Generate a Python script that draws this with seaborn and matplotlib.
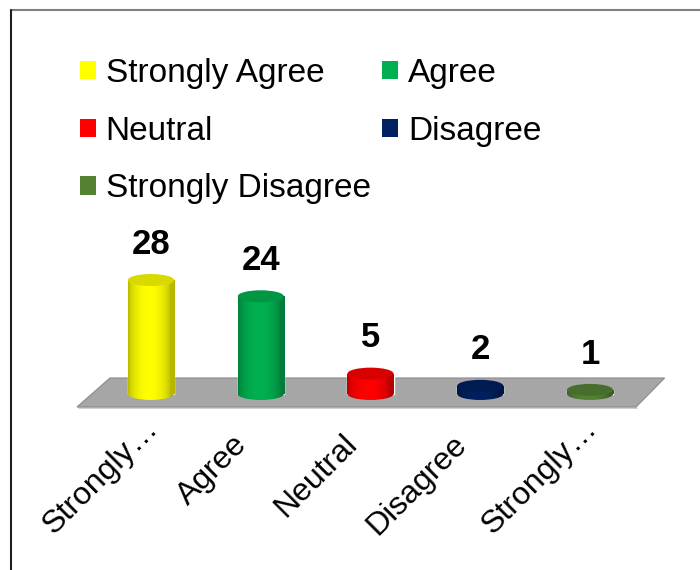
import numpy as np
import pandas as pd
import matplotlib
matplotlib.use("Agg")
import matplotlib.pyplot as plt
import matplotlib.colors as mcolors
from matplotlib.patches import Ellipse, Polygon, Patch
from matplotlib.lines import Line2D
from matplotlib.transforms import ScaledTranslation
import seaborn as sns

# ---- data ----
categories = ["Strongly Agree", "Agree", "Neutral", "Disagree", "Strongly Disagree"]
counts = [28, 24, 5, 2, 1]
tick_labels = ["Strongly…", "Agree", "Neutral", "Disagree", "Strongly…"]
colors = ["#FFFF00", "#00B050", "#FF0000", "#002060", "#548235"]

sns.set_theme(style="white")
plt.rcParams["font.family"] = ["Liberation Sans", "DejaVu Sans"]
plt.rcParams["text.color"] = "black"
plt.rcParams["xtick.color"] = "black"

fig = plt.figure(figsize=(7, 5.7), dpi=100)
fig.patch.set_facecolor("white")

# axes placement (pixel based)
W, H = 700, 570
ax = fig.add_axes([52.2 / W, (H - 418.4) / H, 636.6 / W, 207.6 / H])

df = pd.DataFrame({"category": categories, "count": counts})
sns.barplot(data=df, x="category", y="count", hue="category", palette=colors,
            width=0.42, saturation=1, legend=False, ax=ax, zorder=3)
bars = list(ax.patches)
ax.set_xlim(-0.9, 4.9)
ax.set_ylim(-6, 45)

# floor (3D base plane)
floor = Polygon([(-0.674, -3.19), (4.42, -3.19), (4.68, 3.93), (-0.374, 3.93)],
                closed=True, facecolor="#a6a6a6", edgecolor="#8c8c8c", lw=0.8, zorder=1)
shadow = Polygon([(-0.674, -3.19), (4.42, -3.19), (4.44, -3.7), (-0.654, -3.7)],
                 closed=True, facecolor="#d0d0d0", edgecolor="none", zorder=0.9)
ax.add_patch(shadow)
ax.add_patch(floor)

# cylinder look
eh = 2.95  # ellipse height in data units
t = np.linspace(0, 1, 64)
shade = 0.72 + 0.28 * np.sin(np.pi * np.clip(t * 1.1, 0, 1)) ** 0.6
for patch, col in zip(bars, colors):
    x0, w, h = patch.get_x(), patch.get_width(), patch.get_height()
    xc = x0 + w / 2
    rgb = np.array(mcolors.to_rgb(col))
    grad = np.clip(rgb[None, :] * shade[:, None], 0, 1)[None, :, :]
    dark = np.clip(rgb * 0.85, 0, 1)
    im = ax.imshow(grad, extent=(x0, x0 + w, 0, h), aspect="auto", zorder=3.5,
                   interpolation="bilinear")
    im.set_clip_path(patch)
    # bottom cap
    bot = Ellipse((xc, 0), w, eh, facecolor="none", edgecolor="none", zorder=3.4)
    ax.add_patch(bot)
    im2 = ax.imshow(grad, extent=(x0, x0 + w, -eh / 2, 0.1), aspect="auto", zorder=3.4,
                    interpolation="bilinear")
    im2.set_clip_path(bot)
    # top ellipse
    ax.add_patch(Ellipse((xc, h), w, eh, facecolor=dark, edgecolor="none", zorder=4))
    # value label
    ax.annotate(f"{int(h)}", xy=(xc, h), xytext=(0, 19), textcoords="offset points",
                ha="center", va="baseline", fontsize=25, fontweight="bold",
                color="black", zorder=5)

# axes cosmetics
for s in ax.spines.values():
    s.set_visible(False)
ax.set_yticks([])
ax.set_ylabel("")
ax.set_xlabel("")
ax.set_facecolor("none")
ax.set_xticks(range(len(categories)))
ax.set_xticklabels(tick_labels, rotation=45, ha="right", va="baseline",
                   rotation_mode="anchor", fontsize=23)
ax.tick_params(axis="x", length=0, pad=19.5, colors="black")
for lbl in ax.get_xticklabels():
    if lbl.get_text().endswith("…"):
        off = ScaledTranslation(0.08, 0.16, fig.dpi_scale_trans)
    else:
        off = ScaledTranslation(-0.12, 0, fig.dpi_scale_trans)
    lbl.set_transform(lbl.get_transform() + off)

# legend (row-major order for 2 columns)
handles = [Patch(facecolor=c, edgecolor="none") for c in colors]
order = [0, 2, 4, 1, 3]
fig.legend([handles[i] for i in order], [categories[i] for i in order],
           loc="upper left", bbox_to_anchor=(80 / W, 1 - 58 / H), ncol=2,
           frameon=False, fontsize=24, handlelength=0.47, handleheight=0.47,
           handletextpad=0.3, columnspacing=0.35, labelspacing=0.8,
           borderpad=0, borderaxespad=0, labelcolor="black")

# figure frame lines
fig.add_artist(Line2D([11 / W, 1], [1 - 10 / H, 1 - 10 / H], color="#808080", lw=1.5))
fig.add_artist(Line2D([11 / W, 11 / W], [0, 1 - 10 / H], color="#202020", lw=1.5))

fig.savefig("out.png", dpi=100, facecolor="white")
